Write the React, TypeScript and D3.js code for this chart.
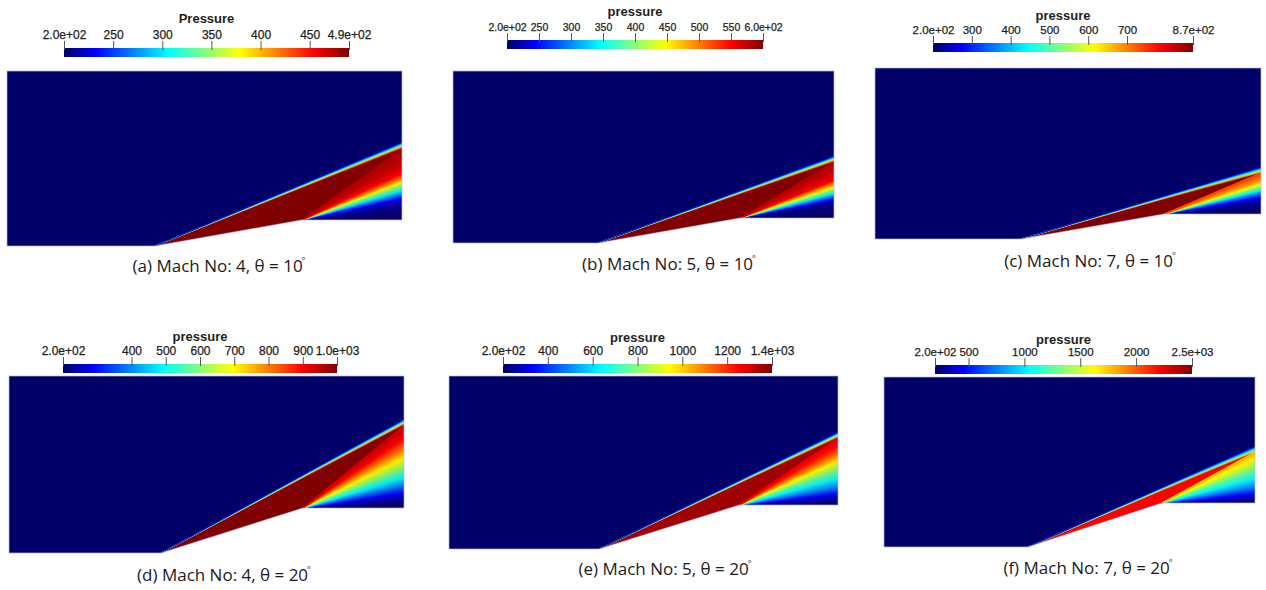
import { useEffect, useRef } from "react";
import * as d3 from "d3";

const W = 1266;
const H = 590;

// ---------- data ----------
const panelIds = ["a", "b", "c", "d", "e", "f"];
const machNumbers = [4, 5, 7, 4, 5, 7];
const rampAngles = [10, 10, 10, 20, 20, 20];
const barTitles = ["Pressure", "pressure", "pressure", "pressure", "pressure", "pressure"];
const pMin = [200, 200, 200, 200, 200, 200];
const pMax = [490, 600, 870, 1000, 1400, 2500];
const barTicks = [
  [250, 300, 350, 400, 450],
  [250, 300, 350, 400, 450, 500, 550],
  [300, 400, 500, 600, 700],
  [400, 500, 600, 700, 800, 900],
  [400, 600, 800, 1000, 1200],
  [500, 1000, 1500, 2000],
];

// geometry in domain units (x: 0..1 along the length, y: 0..1 of the height)
const rampStart = [0.375, 0.381, 0.378, 0.385, 0.386, 0.388];
const rampEnd = [0.747, 0.753, 0.749, 0.744, 0.746, 0.749];
const rampRise = [0.149, 0.145, 0.146, 0.254, 0.254, 0.259];
const shockExit = [0.597, 0.51, 0.425, 0.76, 0.68, 0.598];
const shockWidth = [0.04, 0.038, 0.036, 0.036, 0.036, 0.036];
const postShockP = [490, 600, 870, 1000, 1360, 2220];

// pressure read along the outlet (right edge), from the wall upward
const exitHeights = [
  [0.149, 0.234, 0.274, 0.297, 0.32, 0.343, 0.366, 0.389, 0.417, 0.474, 0.549],
  [0.145, 0.233, 0.256, 0.273, 0.291, 0.308, 0.326, 0.349, 0.366, 0.424, 0.483],
  [0.146, 0.216, 0.246, 0.269, 0.287, 0.304, 0.322, 0.345, 0.38],
  [0.254, 0.299, 0.339, 0.384, 0.429, 0.48, 0.537, 0.593, 0.65, 0.706],
  [0.254, 0.283, 0.318, 0.358, 0.41, 0.462, 0.509, 0.549, 0.595, 0.642],
  [0.259, 0.282, 0.312, 0.353, 0.406, 0.465, 0.512, 0.553],
];
const exitPressures = [
  [200, 209, 235, 270, 306, 342, 380, 418, 452, 470, 476],
  [200, 212, 248, 296, 346, 396, 448, 500, 548, 572, 580],
  [200, 220, 280, 361, 445, 528, 615, 682, 736],
  [200, 224, 288, 392, 492, 592, 696, 800, 896, 936],
  [200, 236, 332, 488, 638, 788, 944, 1100, 1220, 1280],
  [200, 270, 453, 752, 1040, 1327, 1580, 1764],
];

// "Jet" colormap
const jetStops = [0, 0.111, 0.365, 0.492, 0.619, 0.873, 1];
const jetColors = ["#000068", "#0000ff", "#00ffff", "#80ff80", "#ffff00", "#ff0000", "#800000"];

// ---------- layout ----------
const panelBoxes = [
  { left: 7, right: 402, top: 71, bottom: 246 },
  { left: 453, right: 834, top: 71, bottom: 243 },
  { left: 875, right: 1261, top: 68, bottom: 239 },
  { left: 9, right: 404, top: 376, bottom: 553 },
  { left: 449, right: 838, top: 376, bottom: 549 },
  { left: 884, right: 1255, top: 377, bottom: 547 },
];
const barBoxes = [
  { x0: 64, x1: 349, y: 48, title: 23, font: 12 },
  { x0: 507, x1: 763, y: 40, title: 15.5, font: 10.5 },
  { x0: 933, x1: 1193, y: 43, title: 20, font: 11.5 },
  { x0: 63, x1: 337, y: 364, title: 341, font: 12 },
  { x0: 503, x1: 772, y: 364, title: 342, font: 12 },
  { x0: 935, x1: 1192, y: 365, title: 344, font: 11.5 },
];
const captionPos = [
  { x: 219, y: 272 },
  { x: 669, y: 270 },
  { x: 1090, y: 267 },
  { x: 224, y: 581 },
  { x: 665, y: 575 },
  { x: 1088, y: 574 },
];

function jet(lo, hi) {
  return d3.scaleLinear<string>()
    .domain(jetStops.map(t => lo + t * (hi - lo)))
    .range(jetColors)
    .clamp(true);
}

function expLabel(v) {
  const [m, e] = v.toExponential(1).split("e");
  return `${m}e${e[0]}${e.slice(1).padStart(2, "0")}`;
}

export default function App() {
  const ref = useRef<SVGSVGElement>(null);

  useEffect(() => {
    const svg = d3.select(ref.current);
    svg.selectAll("*").remove();
    const defs = svg.append("defs");
    panelIds.forEach((_, i) => {
      drawField(svg, defs, i);
      drawColorbar(svg, defs, i);
      drawCaption(svg, i);
    });
  }, []);

  return (
    <svg
      ref={ref}
      width={W}
      height={H}
      style={{ position: "absolute", left: 0, top: 0, background: "#fff" }}
    />
  );
}

function drawField(svg, defs, i) {
  const id = panelIds[i];
  const box = panelBoxes[i];
  const x = d3.scaleLinear().domain([0, 1]).range([box.left, box.right]);
  const y = d3.scaleLinear().domain([0, 1]).range([box.bottom, box.top]);
  const color = jet(pMin[i], pMax[i]);
  const line = d3.line<[number, number]>().x(d => x(d[0])).y(d => y(d[1]));

  const foot: [number, number] = [rampStart[i], 0];
  const corner: [number, number] = [rampEnd[i], rampRise[i]];
  const outline: [number, number][] = [[0, 0], foot, corner, [1, rampRise[i]], [1, 1], [0, 1]];

  const clipId = `clip-${id}`;
  defs.append("clipPath").attr("id", clipId)
    .append("path").attr("d", line(outline) + "Z");

  const g = svg.append("g");
  const gc = g.append("g").attr("clip-path", `url(#${clipId})`);

  // free stream
  gc.append("path").attr("d", line(outline) + "Z").attr("fill", color(pMin[i]));

  // uniform region behind the oblique shock
  const bandLow = shockExit[i] - shockWidth[i];
  gc.append("path")
    .attr("d", line([foot, [1, bandLow], [1, rampRise[i]], corner]) + "Z")
    .attr("fill", color(postShockP[i]));

  // expansion fan from the ramp corner
  const profile = d3.scaleLinear().domain(exitHeights[i]).range(exitPressures[i]).clamp(true);
  const nFan = 90;
  const hs = d3.range(nFan + 1).map(k => rampRise[i] + (bandLow - rampRise[i]) * k / nFan);
  gc.append("g").selectAll("path")
    .data(d3.pairs(hs))
    .join("path")
    .attr("d", ([h0, h1]) => line([corner, [1, h0], [1, h1]]) + "Z")
    .attr("fill", ([h0, h1]) => color(profile((h0 + h1) / 2)))
    .attr("stroke", ([h0, h1]) => color(profile((h0 + h1) / 2)))
    .attr("stroke-width", 0.4);

  // smeared shock band
  const pTop = profile(bandLow);
  const nBand = 14;
  d3.range(nBand).forEach(k => {
    const t = (k + 0.5) / nBand;
    const gid = `band-${id}-${k}`;
    const grad = defs.append("linearGradient").attr("id", gid)
      .attr("gradientUnits", "userSpaceOnUse")
      .attr("x1", x(rampEnd[i])).attr("x2", x(1)).attr("y1", 0).attr("y2", 0);
    grad.append("stop").attr("offset", 0)
      .attr("stop-color", color(postShockP[i] + (pMin[i] - postShockP[i]) * t));
    grad.append("stop").attr("offset", 1)
      .attr("stop-color", color(pTop + (pMin[i] - pTop) * t));
    const h0 = bandLow + shockWidth[i] * k / nBand;
    const h1 = bandLow + shockWidth[i] * (k + 1) / nBand;
    gc.append("path")
      .attr("d", line([foot, [1, h0], [1, h1]]) + "Z")
      .attr("fill", `url(#${gid})`)
      .attr("stroke", `url(#${gid})`)
      .attr("stroke-width", 0.3);
  });

  g.append("path")
    .attr("d", line(outline) + "Z")
    .attr("fill", "none")
    .attr("stroke", "#b8b8dc")
    .attr("stroke-width", 0.7);
}

function drawColorbar(svg, defs, i) {
  const id = panelIds[i];
  const cb = barBoxes[i];
  const s = d3.scaleLinear().domain([pMin[i], pMax[i]]).range([cb.x0, cb.x1]);

  const gid = `cbar-${id}`;
  const grad = defs.append("linearGradient").attr("id", gid)
    .attr("x1", "0%").attr("x2", "100%").attr("y1", "0%").attr("y2", "0%");
  jetStops.forEach((t, k) => grad.append("stop").attr("offset", t).attr("stop-color", jetColors[k]));

  const g = svg.append("g");
  g.append("rect")
    .attr("x", cb.x0).attr("y", cb.y)
    .attr("width", cb.x1 - cb.x0).attr("height", 9)
    .attr("fill", `url(#${gid})`);

  const ticks = [pMin[i], ...barTicks[i], pMax[i]];
  const axis = d3.axisTop(s)
    .tickValues(ticks)
    .tickSize(9)
    .tickPadding(2.5)
    .tickFormat(v => (v === pMin[i] || v === pMax[i]) ? expLabel(v) : String(v));

  const ax = g.append("g").attr("transform", `translate(0,${cb.y + 2})`).call(axis);
  ax.select(".domain").remove();
  ax.selectAll(".tick line").attr("stroke", "#555").attr("stroke-width", 1);
  ax.selectAll(".tick text")
    .attr("fill", "#1e1e1e")
    .attr("stroke", "#1e1e1e")
    .attr("stroke-width", 0.25)
    .style("font-family", "'Liberation Sans', Arial, sans-serif")
    .style("font-size", `${cb.font}px`);

  g.append("text")
    .attr("x", (cb.x0 + cb.x1) / 2)
    .attr("y", cb.title)
    .attr("text-anchor", "middle")
    .attr("fill", "#1e1e1e")
    .style("font-family", "'Liberation Sans', Arial, sans-serif")
    .style("font-size", "13px")
    .style("font-weight", "bold")
    .text(barTitles[i]);
}

function drawCaption(svg, i) {
  const p = captionPos[i];
  const t = svg.append("text")
    .attr("x", p.x)
    .attr("y", p.y)
    .attr("text-anchor", "middle")
    .attr("fill", "#1a1a1a")
    .style("font-family", "'Open Sans', sans-serif")
    .style("font-size", "17px");
  t.append("tspan").text(`(${panelIds[i]}) Mach No: ${machNumbers[i]}, θ = ${rampAngles[i]}`);
  t.append("tspan").attr("dx", -1).attr("dy", -8).style("font-size", "9px").text("°");
}
